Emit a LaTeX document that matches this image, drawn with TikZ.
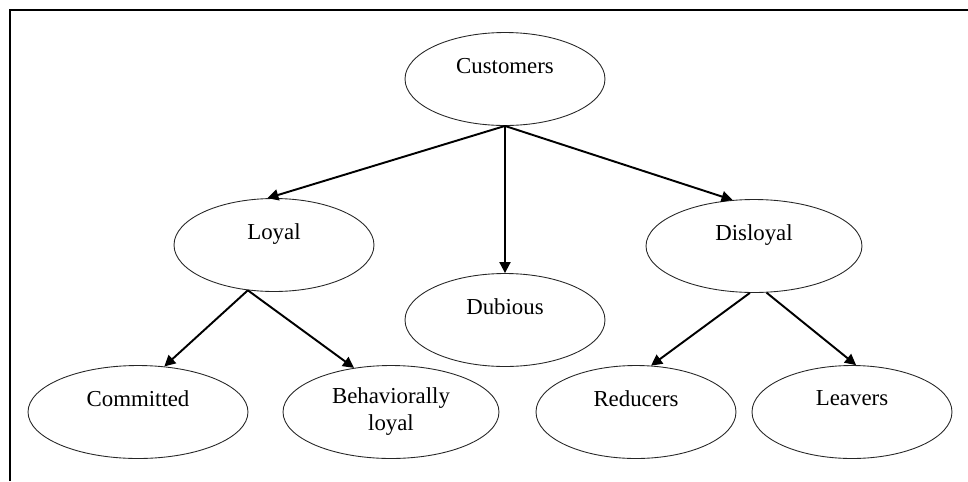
\documentclass[tikz,border=0pt]{standalone}
\usepackage{fontspec}
\setmainfont{Liberation Serif}
\usetikzlibrary{arrows.meta,positioning,shapes.geometric}

\begin{document}
\begin{tikzpicture}[x=0.02cm,y=-0.02cm,
  oval/.style={draw=black!85,ellipse,line width=0.5pt,inner sep=0pt,
               minimum width=4cm,minimum height=1.86cm,align=center,
               font=\fontsize{13}{15.4}\selectfont},
  arr/.style={-{Triangle[length=2.2mm,width=2.2mm]},line width=1.1pt},
  frame/.style={line width=1.2pt}
]
\useasboundingbox (0,0) rectangle (968,481);
\draw[frame] (10,481) -- (10,10) -- (968,10);
\node[oval] (cust) at (505,79) {Customers\\\mbox{}};
\node[oval] (loyal) at (274,245) {Loyal\\\mbox{}};
\node[oval] (dub) at (505,320) {Dubious\\\mbox{}};
\node[oval,minimum width=4.32cm] (disl) at (754,246) {Disloyal\\\mbox{}};
\node[oval,minimum width=4.4cm] (comm) at (138,412) {Committed\\\mbox{}};
\node[oval,minimum width=4.32cm] (behav) at (391,412) {Behaviorally\\loyal};
\node[oval] (red) at (636,412) {Reducers\\\mbox{}};
\node[oval] (leav) at (852,412) {Leavers\\\mbox{}};
\draw[arr] (cust.south) -- (loyal.98);
\draw[arr] (cust.south) -- (dub.north);
\draw[arr] (cust.south) -- (disl.115);
\draw[arr] (loyal.-120) -- (comm.60);
\draw[arr] (loyal.-120) -- (behav.130);
\draw[arr] (disl.-95) -- (red.72);
\draw[arr] (disl.-75) -- (leav.85);
\end{tikzpicture}
\end{document}
